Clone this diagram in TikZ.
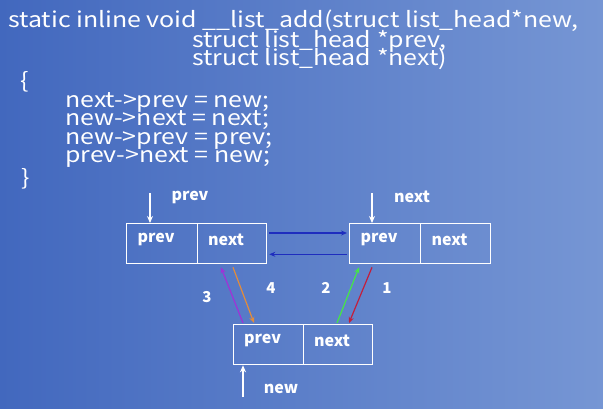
\documentclass[tikz,border=0pt]{standalone}
\usepackage{fontspec}
\setmainfont{Noto Sans CJK SC}
\newfontfamily\codefont[FakeStretch=1.16]{Noto Sans CJK SC}
\usetikzlibrary{arrows.meta,calc}
\definecolor{bgleft}{RGB}{66,104,190}
\definecolor{bgright}{RGB}{118,150,212}
\definecolor{arrblue}{RGB}{30,45,190}
\definecolor{arrpurple}{RGB}{160,50,215}
\definecolor{arrorange}{RGB}{225,140,60}
\definecolor{arrgreen}{RGB}{70,230,70}
\definecolor{arrred}{RGB}{195,30,60}
\newcommand\celltext[1]{\raisebox{4pt}[\height][\depth]{#1}\hspace*{12pt}}
\tikzset{
  code/.style={anchor=base west,inner sep=0pt,text=white,font=\codefont\fontsize{21.5}{21.5}\selectfont},
  cell/.style={draw=white,line width=1.3pt,minimum height=40pt,anchor=north west,inner sep=0pt,text=white,font=\bfseries\fontsize{16}{16}\selectfont},
  lbl/.style={text=white,inner sep=0pt,font=\bfseries\fontsize{16}{16}\selectfont},
  num/.style={text=white,inner sep=0pt,font=\bfseries\fontsize{15}{15}\selectfont},
  ptr/.style={draw=white,line width=1.2pt,-{Stealth[length=7pt,width=6pt]}},
  link/.style={line width=1.2pt,-{Stealth[length=6pt,width=5pt]}}
}
\begin{document}
\begin{tikzpicture}[x=1pt,y=-1pt]
\useasboundingbox (0,0) rectangle (603,408);
\shade[left color=bgleft,right color=bgright] (0,0) rectangle (603,408);
% code
\node[code] (l1) at (8,27) {static inline void \_\_list\_add(struct list\_head*new,};
\node[code] (l2) at (192,47) {struct list\_head *prev,};
\node[code] (l3) at (192,65) {struct list\_head *next)};
\node[code] (l4) at (20,88) {\{};
\node[code] (l5) at (65,107) {next->prev = new;};
\node[code] (l6) at (65,125) {new->next = next;};
\node[code] (l7) at (65,144) {new->prev = prev;};
\node[code] (l8) at (65,162) {prev->next = new;};
\node[code] (l9) at (21,185) {\}};
% boxes
\node[cell,minimum width=71pt] (aprev) at (126,223) {\celltext{prev}};
\node[cell,minimum width=69pt] (anext) at (197,223) {\celltext{next}};
\node[cell,minimum width=71pt] (bprev) at (349,223) {\celltext{prev}};
\node[cell,minimum width=70pt] (bnext) at (420,223) {\celltext{next}};
\node[cell,minimum width=70pt] (cprev) at (233,324) {\celltext{prev}};
\node[cell,minimum width=69pt] (cnext) at (303,324) {\celltext{next}};
% pointer labels
\coordinate (pp) at (150,193);
\coordinate (np) at (372,193);
\coordinate (wp) at (243,397);
\draw[ptr] (pp) -- ($(aprev.north west)+(24,0)$);
\draw[ptr] (np) -- ($(bprev.north west)+(23,0)$);
\draw[ptr] (wp) -- ($(cprev.south west)+(10,0)$);
\node[lbl] (tprev) at (190,197) {prev};
\node[lbl] (tnext) at (412,197) {next};
\node[lbl] (tnew) at (281,389) {new};
% links
\draw[link,arrblue] ($(anext.north east)+(2,10)$) -- ($(bprev.north west)+(-2,10)$);
\draw[link,arrblue] ($(bprev.south west)+(-2,-10)$) -- ($(anext.south east)+(2,-10)$);
\draw[link,arrpurple] ($(cprev.north west)+(10,-1)$) -- ($(anext.south west)+(24,3)$);
\draw[link,arrorange] ($(anext.south west)+(36,3)$) -- ($(cprev.north west)+(21,-1)$);
\draw[link,arrgreen] ($(cnext.north west)+(34,-1)$) -- ($(bprev.south west)+(10,3)$);
\draw[link,arrred] ($(bprev.south west)+(23,3)$) -- ($(cnext.north west)+(46,-1)$);
\node[num] (n3) at (207,297) {3};
\node[num] (n4) at (271,288) {4};
\node[num] (n2) at (326,288) {2};
\node[num] (n1) at (387,288) {1};
\end{tikzpicture}
\end{document}
